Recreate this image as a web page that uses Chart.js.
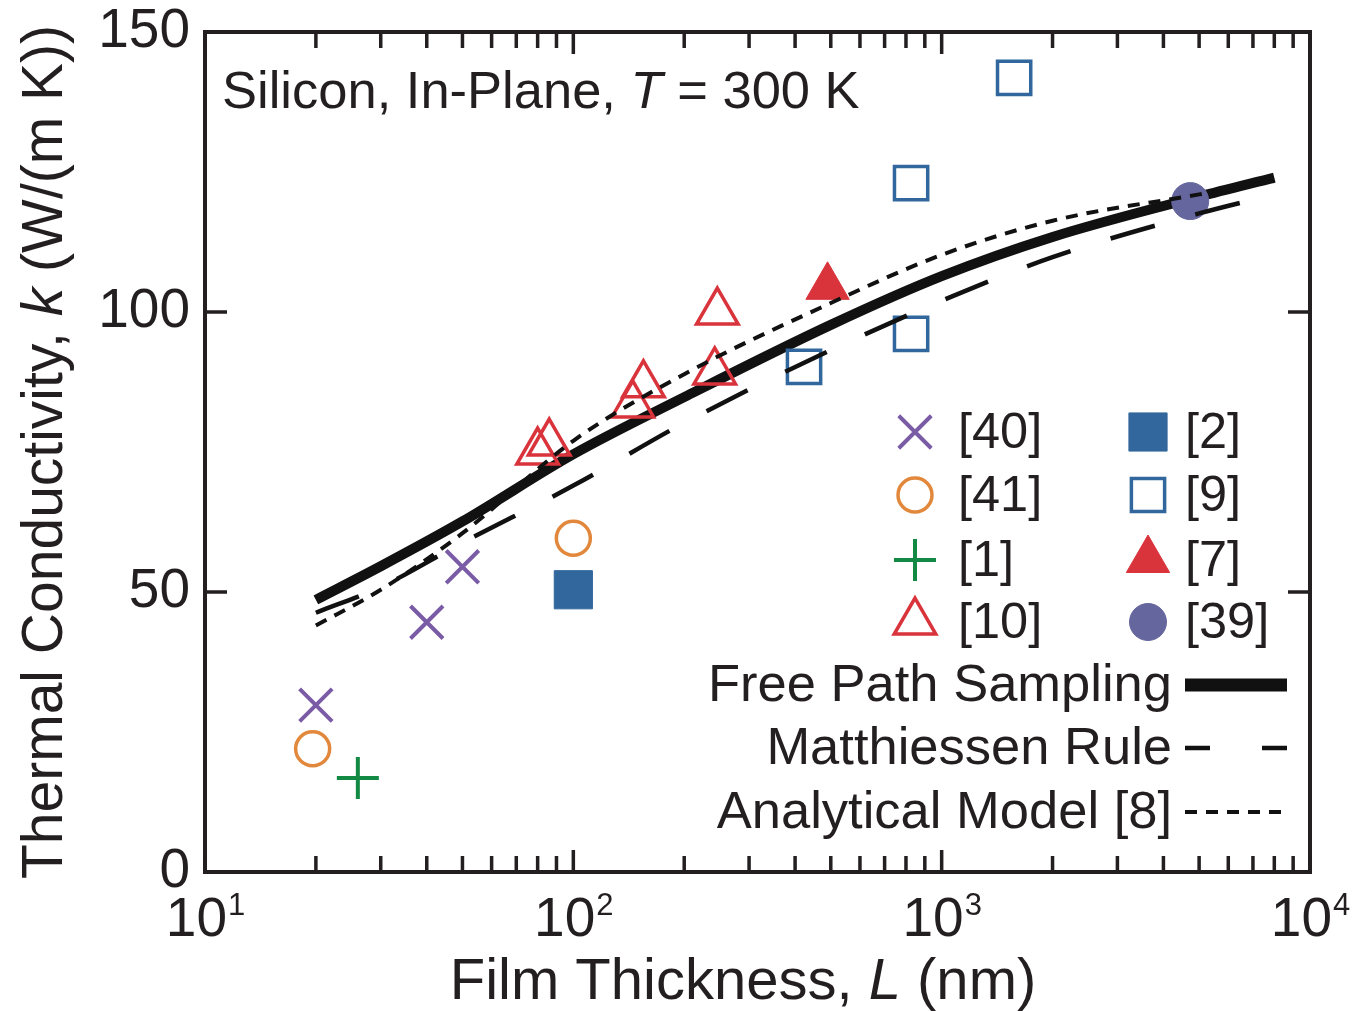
<!DOCTYPE html>
<html><head><meta charset="utf-8">
<script src="https://cdn.jsdelivr.net/npm/chart.js@4.4.1/dist/chart.umd.min.js"></script>
<style>html,body{margin:0;padding:0;background:#fff;} #wrap{width:1352px;height:1011px;}</style>
</head><body><div id="wrap"><canvas id="c" width="1352" height="1011"></canvas></div>
<script>
// ---- data ----
const modelThickness = [20, 30, 50, 100, 200, 500, 1000, 2000, 5000, 8000];
const freePathSampling = [48.6, 54.6, 62.6, 74.6, 84.8, 97.7, 106.4, 113.4, 120.6, 124.0];
const matthiessenRule  = [46.3, 50.9, 58.8, 69.0, 80.2, 93.2, 102.0, 109.8, 117.6, 121.0];
const analyticalModel  = [44.0, 50.4, 60.5, 77.0, 88.9, 101.6, 110.2, 116.3, 121.0, 123.4];

const ref40L = [20, 40, 50];            const ref40k = [29.8, 44.6, 54.5];
const ref41L = [19.6, 100];             const ref41k = [22.0, 59.6];
const ref1L  = [26];                    const ref1k  = [16.8];
const ref10L = [80, 86, 145, 155, 242, 246]; const ref10k = [75.0, 76.6, 83.4, 87.0, 89.3, 100.0];
const ref2L  = [100];                   const ref2k  = [50.4];
const ref9L  = [423, 826, 826, 1573];   const ref9k  = [90.2, 96.1, 123.0, 141.8];
const ref7L  = [490];                   const ref7k  = [104.5];
const ref39L = [4730];                  const ref39k = [119.8];

const xTickDecades = [10, 100, 1000, 10000];
const xTickExponents = ['1', '2', '3', '4'];
const yTicks = [0, 50, 100, 150];

const seriesNames = {
  ref40: '[40]', ref41: '[41]', ref1: '[1]', ref10: '[10]',
  ref2: '[2]', ref9: '[9]', ref7: '[7]', ref39: '[39]',
  fps: 'Free Path Sampling', mr: 'Matthiessen Rule', am: 'Analytical Model [8]'
};

const INK = '#231f20';
const FONT = '"Liberation Sans", Arial, Helvetica, sans-serif';
const zip = (xs, ys) => xs.map((x, i) => ({x: x, y: ys[i]}));

function pts(key, L, k, style, color, filled, radius, bw) {
  return {
    label: seriesNames[key], data: zip(L, k), showLine: false, order: 1,
    pointStyle: style, pointRadius: radius, pointHoverRadius: radius,
    pointBackgroundColor: filled ? color : 'rgba(0,0,0,0)',
    pointBorderColor: color, pointBorderWidth: bw
  };
}
function curve(key, ys, width, dash, order) {
  return {
    label: seriesNames[key], data: zip(modelThickness, ys), showLine: true, order: order,
    borderColor: '#111', borderWidth: width, borderDash: dash, pointRadius: 0,
    cubicInterpolationMode: 'monotone', fill: false, borderCapStyle: 'butt'
  };
}

const markerDefs = [
  {key:'ref40', L:ref40L, k:ref40k, style:'crossRot', color:'#7a5ba6', filled:false, r:23, bw:4, col:0, row:0},
  {key:'ref41', L:ref41L, k:ref41k, style:'circle',   color:'#e2883c', filled:false, r:17, bw:3.5, col:0, row:1},
  {key:'ref1',  L:ref1L,  k:ref1k,  style:'cross',    color:'#138a43', filled:false, r:21, bw:4, col:0, row:2},
  {key:'ref10', L:ref10L, k:ref10k, style:'triangle', color:'#d9333b', filled:false, r:24, bw:3.5, col:0, row:3},
  {key:'ref2',  L:ref2L,  k:ref2k,  style:'rect',     color:'#31679c', filled:true,  r:27, bw:1, col:1, row:0},
  {key:'ref9',  L:ref9L,  k:ref9k,  style:'rect',     color:'#31679c', filled:false, r:23.5, bw:3.5, col:1, row:1},
  {key:'ref7',  L:ref7L,  k:ref7k,  style:'triangle', color:'#d9333b', filled:true,  r:25, bw:1, col:1, row:2},
  {key:'ref39', L:ref39L, k:ref39k, style:'circle',   color:'#66669e', filled:true,  r:18.5, bw:1, col:1, row:3}
];

const datasets = [
  curve('fps', freePathSampling, 10, [], 2),
  ...markerDefs.map(m => pts(m.key, m.L, m.k, m.style, m.color, m.filled, m.r, m.bw)),
  curve('mr', matthiessenRule, 4.5, [46, 42], 0),
  curve('am', analyticalModel, 4, [12, 9], 0)
];

function richWidth(ctx, parts) {
  let w = 0;
  parts.forEach(p => { ctx.font = p.font; w += ctx.measureText(p.t).width; });
  return w;
}
function drawRich(ctx, parts, x, y, align) {
  const w = richWidth(ctx, parts);
  let cx = align === 'center' ? x - w / 2 : (align === 'right' ? x - w : x);
  ctx.textAlign = 'left';
  parts.forEach(p => { ctx.font = p.font; ctx.fillText(p.t, cx, y); cx += ctx.measureText(p.t).width; });
}

function marker(ctx, m, x, y) {
  ctx.save();
  ctx.lineWidth = m.bw;
  ctx.strokeStyle = m.color;
  ctx.fillStyle = m.color;
  const r = m.r;
  ctx.beginPath();
  if (m.style === 'crossRot') {
    const o = Math.SQRT1_2 * r;
    ctx.moveTo(x - o, y - o); ctx.lineTo(x + o, y + o);
    ctx.moveTo(x - o, y + o); ctx.lineTo(x + o, y - o);
    ctx.stroke();
  } else if (m.style === 'cross') {
    ctx.moveTo(x - r, y); ctx.lineTo(x + r, y);
    ctx.moveTo(x, y - r); ctx.lineTo(x, y + r);
    ctx.stroke();
  } else if (m.style === 'circle') {
    ctx.arc(x, y, r, 0, Math.PI * 2);
    if (m.filled) ctx.fill(); ctx.stroke();
  } else if (m.style === 'triangle') {
    ctx.moveTo(x, y - r);
    ctx.lineTo(x + Math.sin(2 * Math.PI / 3) * r, y + r / 2);
    ctx.lineTo(x - Math.sin(2 * Math.PI / 3) * r, y + r / 2);
    ctx.closePath();
    if (m.filled) ctx.fill(); ctx.stroke();
  } else if (m.style === 'rect') {
    const s = Math.SQRT1_2 * r;
    ctx.rect(x - s, y - s, 2 * s, 2 * s);
    if (m.filled) ctx.fill(); ctx.stroke();
  }
  ctx.restore();
}

const decor = {
  id: 'decor',
  afterDraw(chart) {
    const ctx = chart.ctx, a = chart.chartArea;
    const xs = chart.scales.x, ys = chart.scales.y;
    ctx.save();
    // frame
    ctx.strokeStyle = INK; ctx.lineWidth = 4; ctx.setLineDash([]);
    ctx.strokeRect(a.left, a.top, a.right - a.left, a.bottom - a.top);
    // inward ticks on all four sides
    ctx.lineWidth = 3.5;
    ctx.beginPath();
    for (let d = 10; d < 10000; d *= 10) {
      for (let m = 1; m <= 10; m++) {
        const v = d * m;
        const px = xs.getPixelForValue(v);
        const len = (m === 1 || m === 10) ? 22 : 16;
        ctx.moveTo(px, a.bottom); ctx.lineTo(px, a.bottom - len);
        ctx.moveTo(px, a.top); ctx.lineTo(px, a.top + len);
      }
    }
    yTicks.forEach(v => {
      const py = ys.getPixelForValue(v);
      ctx.moveTo(a.left, py); ctx.lineTo(a.left + 22, py);
      ctx.moveTo(a.right, py); ctx.lineTo(a.right - 22, py);
    });
    ctx.stroke();

    ctx.fillStyle = INK;
    ctx.textBaseline = 'alphabetic';
    // x tick labels 10^n
    xTickDecades.forEach((v, i) => {
      const px = xs.getPixelForValue(v);
      const base = '55px ' + FONT, sup = '31px ' + FONT;
      ctx.font = base; const w1 = ctx.measureText('10').width;
      ctx.font = sup; const w2 = ctx.measureText(xTickExponents[i]).width;
      const x0 = px - (w1 + w2) / 2;
      ctx.font = base; ctx.textAlign = 'left'; ctx.fillText('10', x0, 936);
      ctx.font = sup; ctx.fillText(xTickExponents[i], x0 + w1 + 1, 915);
    });
    // axis titles
    const tf = '58px ' + FONT, ti = 'italic 58px ' + FONT;
    drawRich(ctx, [{t:'Film Thickness, ', font:tf}, {t:'L', font:ti}, {t:' (nm)', font:tf}], 743, 999, 'center');
    const yf = '57px ' + FONT, yi = 'italic 57px ' + FONT;
    ctx.save();
    ctx.translate(62, 452);
    ctx.rotate(-Math.PI / 2);
    drawRich(ctx, [{t:'Thermal Conductivity, ', font:yf}, {t:'k', font:yi}, {t:' (W/(m K))', font:yf}], 0, 0, 'center');
    ctx.restore();
    // annotation
    const af = '52.5px ' + FONT, ai = 'italic 52.5px ' + FONT;
    drawRich(ctx, [{t:'Silicon, In-Plane, ', font:af}, {t:'T', font:ai}, {t:' = 300 K', font:af}], a.left + 17, 108, 'left');

    // legend: markers
    const colX = [915, 1148], labX = [958, 1185], rowY = [432, 495, 560, 622];
    ctx.textBaseline = 'middle';
    markerDefs.forEach(m => {
      marker(ctx, m, colX[m.col], rowY[m.row]);
      ctx.fillStyle = INK; ctx.font = '50.5px ' + FONT; ctx.textAlign = 'left';
      ctx.fillText(seriesNames[m.key], labX[m.col], rowY[m.row] + 2);
    });
    // legend: lines
    const lf = '52.5px ' + FONT;
    const lineRows = [
      {key:'fps', y:685, w:13, dash:[]},
      {key:'mr',  y:748, w:4.5, dash:[25, 52]},
      {key:'am',  y:812, w:4, dash:[12, 9]}
    ];
    lineRows.forEach(r => {
      ctx.fillStyle = INK; ctx.font = lf; ctx.textAlign = 'right';
      ctx.fillText(seriesNames[r.key], 1172, r.y + 2);
      ctx.beginPath(); ctx.strokeStyle = '#111'; ctx.lineWidth = r.w; ctx.setLineDash(r.dash);
      ctx.moveTo(1185, r.y); ctx.lineTo(1287, r.y); ctx.stroke();
    });
    ctx.setLineDash([]);
    ctx.restore();
  }
};

Chart.defaults.font.family = FONT;
new Chart(document.getElementById('c'), {
  type: 'scatter',
  data: { datasets: datasets },
  options: {
    responsive: false, animation: false, devicePixelRatio: 1,
    layout: { padding: { left: 0, right: 42, top: 32, bottom: 0 } },
    plugins: { legend: { display: false }, tooltip: { enabled: false } },
    scales: {
      x: {
        type: 'logarithmic', min: 10, max: 10000,
        grid: { display: false }, border: { display: false },
        ticks: { display: false },
        afterFit: s => { s.height = 139; }
      },
      y: {
        type: 'linear', min: 0, max: 150,
        grid: { display: false, drawTicks: true, tickLength: 15 }, border: { display: false },
        ticks: { stepSize: 50, color: INK, padding: 0, font: { size: 55, lineHeight: 1 } },
        afterFit: s => { s.width = 205; }
      }
    }
  },
  plugins: [decor]
});
</script>
</body></html>
